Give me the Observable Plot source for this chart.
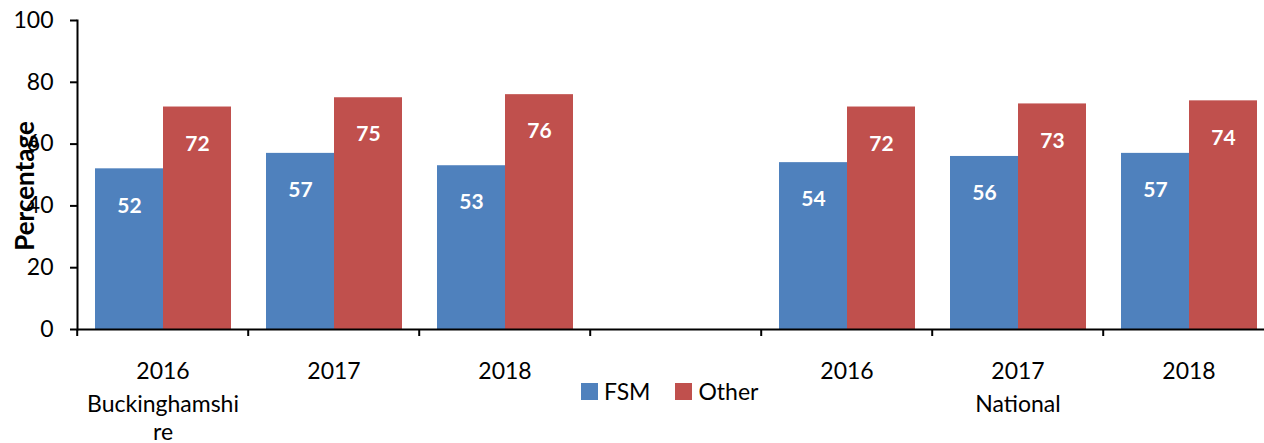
<!DOCTYPE html>
<html>
<head>
<meta charset="utf-8">
<script src="https://cdn.jsdelivr.net/npm/d3@7"></script>
<script src="https://cdn.jsdelivr.net/npm/@observablehq/plot@0.6"></script>
<style>
  html, body { margin: 0; padding: 0; background: #fff; }
  #wrap { position: relative; width: 1264px; height: 443px; overflow: hidden; font-family: Lato, sans-serif; }
  #legend { position: absolute; left: 581px; top: 377px; display: flex; align-items: center; font-size: 23px; color: #000; }
  #legend .sw { width: 17px; height: 17px; display: inline-block; margin-right: 6px; }
  #legend .item { display: flex; align-items: center; margin-right: 25px; }
</style>
</head>
<body>
<div id="wrap"></div>
<script>
const slots = ["B2016", "B2017", "B2018", "gap", "N2016", "N2017", "N2018"];
const slotYears = ["2016", "2017", "2018", "", "2016", "2017", "2018"];
const series = ["FSM", "Other"];
const fsmValues = [52, 57, 53, null, 54, 56, 57];
const otherValues = [72, 75, 76, null, 72, 73, 74];
const groupSlots = ["B2016", "N2017"];
const groupNames = ["Buckinghamshi\nre", "National"];
const yTicks = [0, 20, 40, 60, 80, 100];
const colors = ["#4F81BD", "#C0504D"];

const data = slots.flatMap((s, i) => fsmValues[i] == null ? [] : [
  {slot: s, series: "FSM", value: fsmValues[i]},
  {slot: s, series: "Other", value: otherValues[i]}
]);

const chart = Plot.plot({
  width: 1264,
  height: 443,
  marginLeft: 75,
  marginRight: -12,
  marginTop: 20,
  marginBottom: 114,
  style: {fontFamily: "Lato, sans-serif", fontSize: "23px", color: "#000", background: "#fff"},
  fx: {domain: slots, padding: 0, axis: null},
  x: {domain: series, paddingInner: 0, paddingOuter: 0.25, axis: null},
  y: {domain: [0, 100], axis: null},
  color: {domain: series, range: colors},
  marks: [
    Plot.barY(data, {fx: "slot", x: "series", y: "value", fill: "series"}),
    Plot.text(data, {fx: "slot", x: "series", y: "value", text: d => String(d.value), dy: 37,
      fill: "white", fontWeight: "bold", fontSize: 21}),
    Plot.ruleY([0], {stroke: "#000", strokeWidth: 2}),
    Plot.axisY({ticks: yTicks, tickSize: 7, tickPadding: 17, fontSize: 23, label: null, strokeWidth: 2}),
    Plot.frame({anchor: "left", facetAnchor: "left", stroke: "#000", strokeWidth: 2}),
    Plot.axisFx({anchor: "bottom", tickSize: 7, dx: -85.79, tickFormat: () => "", strokeWidth: 2, label: null}),
    Plot.text(slots, {fx: d => d, text: (d, i) => slotYears[i], frameAnchor: "bottom", dy: 42,
      lineAnchor: "middle", fontSize: 23}),
    Plot.text(groupSlots, {fx: d => d, text: (d, i) => groupNames[i], frameAnchor: "bottom", dy: 63,
      lineAnchor: "top", lineHeight: 1.22, fontSize: 23}),
    Plot.text(["Percentage"], {fx: () => "B2016", frameAnchor: "left", textAnchor: "middle", dx: -52, dy: 11,
      rotate: -90, fontWeight: "bold", fontSize: 26})
  ]
});

const wrap = document.getElementById("wrap");
wrap.appendChild(chart);

const legend = document.createElement("div");
legend.id = "legend";
series.forEach((s, i) => {
  const item = document.createElement("div");
  item.className = "item";
  const sw = document.createElement("span");
  sw.className = "sw";
  sw.style.background = colors[i];
  const t = document.createElement("span");
  t.textContent = s;
  item.appendChild(sw);
  item.appendChild(t);
  legend.appendChild(item);
});
wrap.appendChild(legend);
</script>
</body>
</html>
